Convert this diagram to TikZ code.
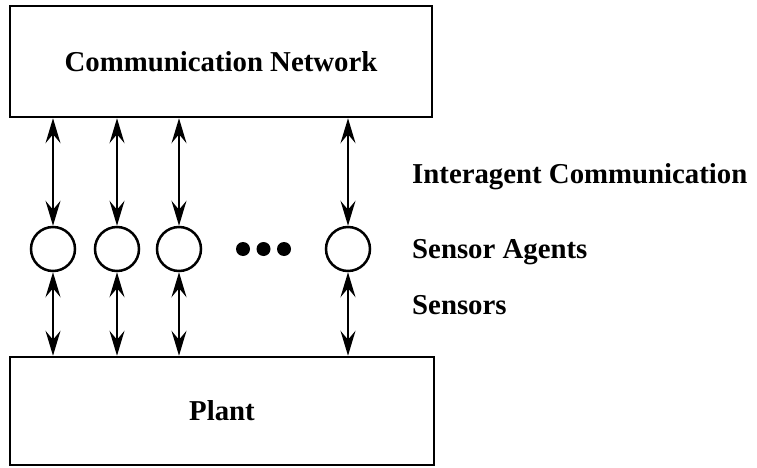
\documentclass[tikz,border=0pt]{standalone}
\usepackage{fontspec}
\setmainfont{Liberation Serif}
\usetikzlibrary{arrows.meta}

\begin{document}
\begin{tikzpicture}[x=1pt, y=-1pt, >={Stealth[length=25pt, width=15pt, inset=9pt]}]
\useasboundingbox (0,0) rectangle (757,468);

\tikzstyle{every node}=[rectangle, draw, line width=2.5pt, inner sep=0pt,
  font=\fontsize{28.8}{34}\selectfont\bfseries]
\draw    (221, 61.5)  node[minimum width=422pt, minimum height=111pt] (net) {Communication Network}
         (222, 411)   node[minimum width=424pt, minimum height=108pt] (plant) {Plant};

\tikzstyle{every node}=[circle, draw, line width=2.5pt, minimum size=44pt, inner sep=0pt]
\draw    (53,  249) node (ag1) {}
         (117, 249) node (ag2) {}
         (179, 249) node (ag3) {}
         (348, 249) node (agn) {};

\tikzstyle{every node}=[circle, fill, draw=none, minimum size=14pt, inner sep=0pt]
\draw    (243,   249) node (dot1) {}
         (263.5, 249) node (dot2) {}
         (284,   249) node (dot3) {};

\tikzstyle{every node}=[anchor=base west, inner sep=0pt,
  font=\fontsize{28.8}{34}\selectfont\bfseries]
\draw    (412, 183) node (inter) {Interagent Communication}
         (412, 258) node (agents) {Sensor Agents}
         (412, 314) node (sens) {Sensors};

\draw [<->, line width=2pt] (ag1 |- net.south) -- (ag1);
\draw [<->, line width=2pt] (ag2 |- net.south) -- (ag2);
\draw [<->, line width=2pt] (ag3 |- net.south) -- (ag3);
\draw [<->, line width=2pt] (agn |- net.south) -- (agn);
\draw [<->, line width=2pt] (ag1) -- (ag1 |- plant.north);
\draw [<->, line width=2pt] (ag2) -- (ag2 |- plant.north);
\draw [<->, line width=2pt] (ag3) -- (ag3 |- plant.north);
\draw [<->, line width=2pt] (agn) -- (agn |- plant.north);

\end{tikzpicture}
\end{document}
